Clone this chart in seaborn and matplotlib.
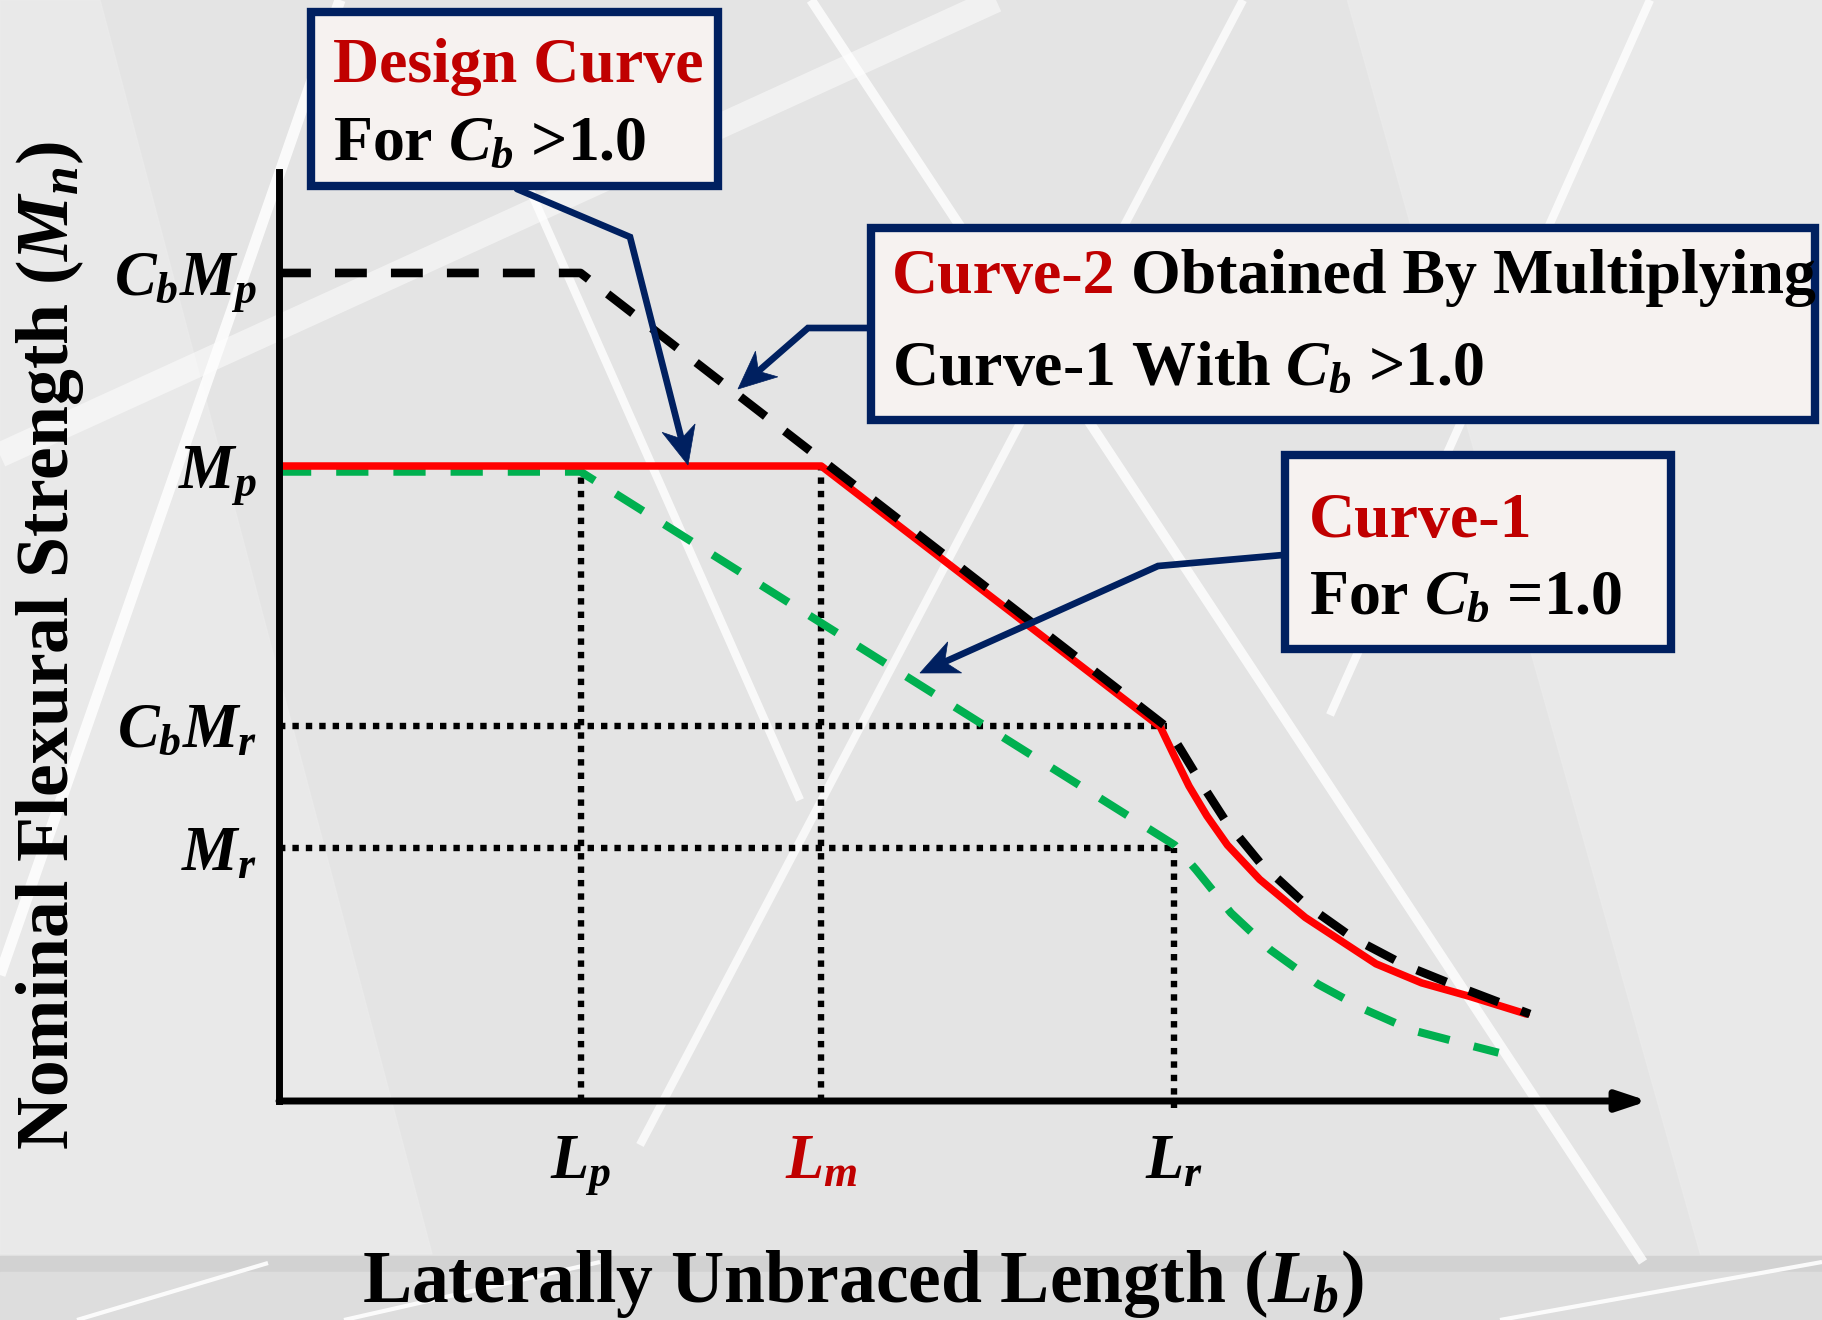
import numpy as np
import matplotlib
matplotlib.use("Agg")
import matplotlib.pyplot as plt
import seaborn as sns
from matplotlib.patches import Rectangle, Polygon

# ------------------- Data (schematic units: L_r = 10, M_p = 100) -------------------- #
Lp, Lm, Lr = 3.37, 6.06, 10.0
CbMp, Mp, CbMr, Mr = 130.4, 100.0, 59.1, 39.8
x_end, y_top = 15.3, 146.3

x_ticks = [Lp, Lm, Lr]
x_labels = [r"$L_p$", r"$L_m$", r"$L_r$"]
y_ticks = [CbMp, Mp, CbMr, Mr]
y_labels = [r"$C_bM_p$", r"$M_p$", r"$C_bM_r$", r"$M_r$"]

# Curve-2 (Curve-1 times Cb), black dashed
curve2_x = [0, 3.37, 9.92, 10.08, 10.30, 10.57, 10.96, 11.47, 12.00, 12.58, 13.16, 13.98]
curve2_y = [130.4, 130.4, 58.9, 55.3, 50.2, 44.3, 37.6, 31.0, 25.7, 21.4, 18.1, 13.7]

# Design curve for Cb > 1.0, red solid
design_x = [0, 6.06, 9.85, 10.01, 10.17, 10.37, 10.60, 10.96, 11.47, 12.26, 12.77, 13.30, 13.94]
design_y = [100, 100, 58.9, 54.2, 49.6, 44.9, 40.3, 34.9, 28.9, 21.6, 18.6, 16.5, 13.7]

# Curve-1 for Cb = 1.0, green dashed
curve1_x = [0, 3.37, 10.01, 10.25, 10.64, 11.08, 11.61, 12.12, 12.65, 13.30, 13.63]
curve1_y = [99.1, 99.1, 40.3, 36.4, 29.6, 23.8, 18.4, 14.5, 11.2, 8.8, 7.6]

# ------------------- Style -------------------- #
sns.set_style("white")
plt.rcParams['font.family'] = ['Liberation Serif', 'DejaVu Serif']
plt.rcParams['font.weight'] = 'bold'
plt.rcParams['mathtext.fontset'] = 'custom'
plt.rcParams['mathtext.rm'] = 'Liberation Serif:bold'
plt.rcParams['mathtext.it'] = 'Liberation Serif:italic:bold'
plt.rcParams['mathtext.bf'] = 'Liberation Serif:bold'
plt.rcParams['text.color'] = 'black'
plt.rcParams['axes.labelcolor'] = 'black'
plt.rcParams['xtick.color'] = 'black'
plt.rcParams['ytick.color'] = 'black'

RED_TXT = '#c00000'
NAVY = '#002060'
BOX_FILL = '#f6f2f0'

fig = plt.figure(figsize=(18.22, 13.2), dpi=100)
fig.patch.set_facecolor('#e4e4e4')

# ------------------- Background (pixel coords) -------------------- #
bg = fig.add_axes([0, 0, 1, 1], zorder=0)
bg.set_xlim(0, 1822)
bg.set_ylim(1320, 0)
bg.axis('off')
bg.add_patch(Rectangle((0, 0), 1822, 1320, color='#e4e4e4'))
bg.add_patch(Polygon([(0, 0), (100, 0), (432, 1254), (0, 1254)], color='#ebebeb', alpha=0.8))
bg.add_patch(Polygon([(1347, 0), (1822, 0), (1822, 1254), (1700, 1254)], color='#ebebeb', alpha=0.8))
bg.add_patch(Rectangle((0, 1256), 1822, 16, color='#d2d2d2'))
bg.add_patch(Rectangle((0, 1272), 1822, 48, color='#dddddd'))

streaks = [
    (0, 975, 340, 0, 8, 0.85),
    (0, 455, 996, 0, 18, 0.5),
    (530, 190, 800, 800, 6, 0.8),
    (811, 0, 1643, 1262, 7, 0.8),
    (1650, 0, 1330, 715, 6, 0.8),
    (1243, 0, 640, 1145, 6, 0.75),
    (77, 1320, 268, 1263, 3, 0.9),
    (344, 1320, 600, 1262, 3, 0.9),
    (1500, 1320, 1822, 1262, 3, 0.9),
]
for x0, y0, x1, y1, w, a in streaks:
    bg.plot([x0, x1], [y0, y1], color='white', linewidth=w, alpha=a, solid_capstyle='butt')

# ------------------- Main chart -------------------- #
ax = fig.add_axes([279 / 1822, 219 / 1320, 1369 / 1822, 929 / 1320], zorder=1)
ax.set_xlim(0, x_end)
ax.set_ylim(0, y_top)
ax.patch.set_alpha(0)
for s in ['top', 'right', 'bottom']:
    ax.spines[s].set_visible(False)
ax.spines['left'].set_linewidth(5)
ax.spines['left'].set_color('black')
ax.annotate('', xy=(x_end, 0), xytext=(0, 0), annotation_clip=False,
            arrowprops=dict(arrowstyle='-|>,head_length=0.6,head_width=0.2', color='black',
                            linewidth=5, mutation_scale=30, shrinkA=0, shrinkB=0))

# dotted guide lines
dot = dict(color='black', linewidth=4.6, linestyle=(0, (1.0, 1.1)))
ax.plot([Lp, Lp], [0, Mp], **dot)
ax.plot([Lm, Lm], [0, Mp], **dot)
ax.plot([Lr, Lr], [-1.1, Mr], clip_on=False, **dot)
ax.plot([0, curve2_x[2]], [CbMr, CbMr], **dot)
ax.plot([0, Lr], [Mr, Mr], **dot)

# curves
sns.lineplot(x=curve1_x, y=curve1_y, sort=False, estimator=None, ax=ax,
             color='#00b050', linewidth=5.8)
ax.lines[-1].set_dashes([4.0, 3.1])
sns.lineplot(x=design_x, y=design_y, sort=False, estimator=None, ax=ax,
             color='#ff0000', linewidth=5.4)
sns.lineplot(x=curve2_x, y=curve2_y, sort=False, estimator=None, ax=ax,
             color='black', linewidth=6.2)
ax.lines[-1].set_dashes([3.7, 2.8])

ax.set_xticks(x_ticks)
ax.set_xticklabels(x_labels, fontsize=45)
ax.get_xticklabels()[1].set_color(RED_TXT)
ax.set_yticks(y_ticks)
ax.set_yticklabels(y_labels, fontsize=45)
ax.tick_params(axis='both', length=0)
ax.tick_params(axis='x', pad=24)
ax.tick_params(axis='y', pad=16)

ax.set_xlabel(r"Laterally Unbraced Length ($L_b$)", fontsize=53, fontweight='bold')
ax.xaxis.set_label_coords(0.4266, -0.158)
ax.set_ylabel(r"Nominal Flexural Strength ($M_n$)", fontsize=53, fontweight='bold')
ax.yaxis.set_label_coords(-0.141, 0.49)

# ------------------- Callout boxes and arrows (pixel coords) -------------------- #
ann = fig.add_axes([0, 0, 1, 1], zorder=2)
ann.set_xlim(0, 1822)
ann.set_ylim(1320, 0)
ann.axis('off')
ann.patch.set_visible(False)

boxes = [(311, 12, 407, 174), (871, 228, 944, 192), (1285, 455, 386, 194)]
for bx, by, bw, bh in boxes:
    ann.add_patch(Rectangle((bx, by), bw, bh, facecolor=BOX_FILL, edgecolor=NAVY, linewidth=6))

fs = 46
ann.text(333, 82, "Design Curve", color=RED_TXT, fontsize=fs, va='baseline', ha='left')
ann.text(333, 160, r"For $C_b$ >1.0", color='black', fontsize=fs, va='baseline', ha='left')

t2 = ann.text(892, 307, "Curve-2", color=RED_TXT, fontsize=fs, va='bottom', ha='left')
ann.annotate("Obtained By Multiplying", xy=(1, 0), xycoords=t2, xytext=(11, 0),
             textcoords='offset points', color='black', fontsize=fs, va='bottom', ha='left')
ann.text(892, 385, r"Curve-1 With $C_b$ >1.0", color='black', fontsize=fs, va='baseline', ha='left')

ann.text(1309, 537, "Curve-1", color=RED_TXT, fontsize=fs, va='baseline', ha='left')
ann.text(1309, 614, r"For $C_b$ =1.0", color='black', fontsize=fs, va='baseline', ha='left')

arrows = [
    [(517, 189), (630, 237), (688, 465)],
    [(869, 328), (808, 328), (738, 389)],
    [(1283, 555), (1158, 566), (920, 673)],
]
head_len, head_half, notch = 38, 17, 11
for pts in arrows:
    tip = np.array(pts[-1], dtype=float)
    prev = np.array(pts[-2], dtype=float)
    d = (tip - prev) / np.linalg.norm(tip - prev)
    n = np.array([-d[1], d[0]])
    base = tip - d * head_len
    shaft_end = tip - d * (head_len - notch)
    xs = [p[0] for p in pts[:-1]] + [shaft_end[0]]
    ys = [p[1] for p in pts[:-1]] + [shaft_end[1]]
    ann.plot(xs, ys, color=NAVY, linewidth=4.8, solid_joinstyle='miter')
    head = [tip, base + n * head_half, shaft_end, base - n * head_half]
    ann.add_patch(Polygon(head, closed=True, facecolor=NAVY, edgecolor=NAVY, linewidth=0.5))

fig.savefig("out.png", dpi=100)
